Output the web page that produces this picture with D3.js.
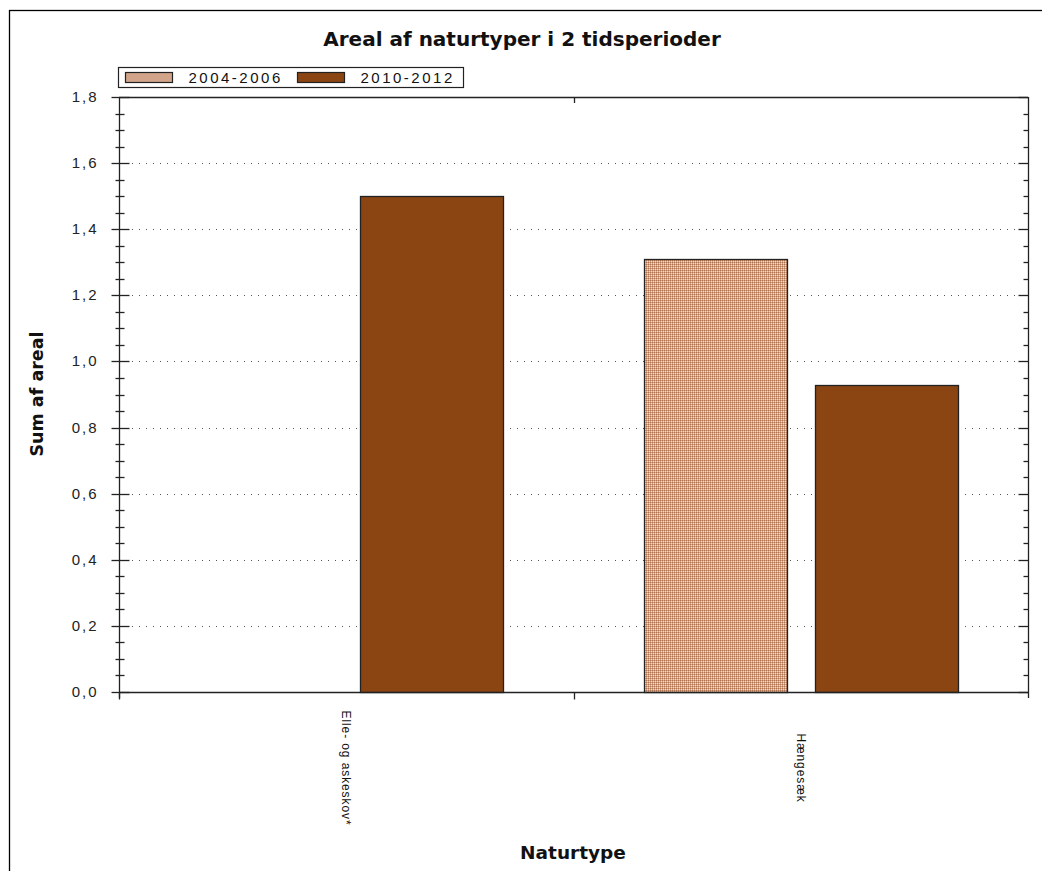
<!DOCTYPE html>
<html>
<head>
<meta charset="utf-8">
<script src="https://cdn.jsdelivr.net/npm/d3@7"></script>
<style>
  body { margin: 0; background: #fff; }
  text { font-family: "Liberation Sans", Arial, sans-serif; }
  .title { font-family: "DejaVu Sans", Verdana, sans-serif; font-weight: bold; }
</style>
</head>
<body>
<div id="chart"></div>
<script>
// chart data
const categories = ['Elle- og askeskov*', 'Hængesæk'];
const periods = ['2004-2006', '2010-2012'];
const values2004 = [0, 1.31];
const values2010 = [1.5, 0.93];
const yTicks = [0, 0.2, 0.4, 0.6, 0.8, 1.0, 1.2, 1.4, 1.6, 1.8];

const width = 1042;
const height = 871;
const margin = {top: 97, right: 14, bottom: 179, left: 119};
const usableArea = {
    top: margin.top,
    right: width - margin.right,
    bottom: height - margin.bottom,
    left: margin.left,
};

const rows = categories.map((c, i) => ({cat: c, vals: [values2004[i], values2010[i]]}));

const svg = d3.select('#chart')
    .append('svg')
    .attr('width', width)
    .attr('height', height);

// dotted fill for first period
const defs = svg.append('defs');
const pat = defs.append('pattern')
    .attr('id', 'dots')
    .attr('width', 2).attr('height', 2)
    .attr('patternUnits', 'userSpaceOnUse')
    .attr('shape-rendering', 'crispEdges');
pat.append('rect').attr('width', 2).attr('height', 2).attr('fill', '#d2a184');
pat.append('rect').attr('width', 1).attr('height', 1).attr('fill', '#b27450');
pat.append('rect').attr('x', 1).attr('y', 1).attr('width', 1).attr('height', 1).attr('fill', '#f0ddd0');

const fills = ['url(#dots)', '#8b4513'];

// outer frame
svg.append('rect')
    .attr('x', 9.5).attr('y', 10.5)
    .attr('width', 1040).attr('height', 870)
    .attr('fill', 'none').attr('stroke', '#000').attr('stroke-width', 1.3);

const xScale = d3.scaleBand().domain(categories).range([usableArea.left, usableArea.right]);
// bars sit 70px in from each category edge, 28px apart
const xInner = d3.scaleBand().domain(periods)
    .range([70, xScale.bandwidth() - 70])
    .paddingInner(28 / 170);
const yScale = d3.scaleLinear().domain([0, 1.8]).range([usableArea.bottom, usableArea.top]);

// gridlines
svg.append('g')
    .selectAll('line')
    .data(yTicks.filter(d => d > 0 && d < 1.8))
    .join('line')
    .attr('x1', usableArea.left + 6).attr('x2', usableArea.right)
    .attr('y1', d => Math.round(yScale(d)) + 0.5).attr('y2', d => Math.round(yScale(d)) + 0.5)
    .attr('stroke', '#555').attr('stroke-width', 1)
    .attr('stroke-dasharray', '1,6');

// bars
const groups = svg.append('g').attr('class', 'bars')
    .selectAll('g')
    .data(rows)
    .join('g')
    .attr('transform', d => `translate(${Math.round(xScale(d.cat))},0)`);

groups.selectAll('rect')
    .data(d => d.vals.map((v, i) => ({period: periods[i], value: v, i})).filter(d => d.value > 0))
    .join('rect')
    .attr('x', d => Math.round(xInner(d.period)) + 0.5)
    .attr('y', d => Math.round(yScale(d.value)) + 0.5)
    .attr('width', Math.round(xInner.bandwidth()))
    .attr('height', d => Math.round(yScale(0) - yScale(d.value)))
    .attr('fill', d => fills[d.i])
    .attr('stroke', '#222').attr('stroke-width', 1.3);

// top line of plot area
svg.append('line')
    .attr('x1', usableArea.left).attr('x2', usableArea.right)
    .attr('y1', usableArea.top + 0.5).attr('y2', usableArea.top + 0.5)
    .attr('stroke', '#222').attr('stroke-width', 1.3);

// y axes, left and right, with minor ticks
const minor = d3.range(0, 1.8001, 0.05).filter(v => Math.abs(v * 5 - Math.round(v * 5)) > 0.01);

function yAxisSide(x, dir) {
    const g = svg.append('g').attr('transform', `translate(${x + 0.5},0)`);
    g.append('line').attr('y1', usableArea.top).attr('y2', usableArea.bottom + 6)
        .attr('stroke', '#222').attr('stroke-width', 1.3);
    g.selectAll('.major').data(yTicks).join('line')
        .attr('class', 'major')
        .attr('x1', dir < 0 ? -8 : -10).attr('x2', dir < 0 ? 10 : 0)
        .attr('y1', d => Math.round(yScale(d)) + 0.5).attr('y2', d => Math.round(yScale(d)) + 0.5)
        .attr('stroke', '#222').attr('stroke-width', 1.3);
    g.selectAll('.minor').data(minor).join('line')
        .attr('class', 'minor')
        .attr('x1', dir < 0 ? -4 : -5).attr('x2', dir < 0 ? 5 : 0)
        .attr('y1', d => Math.round(yScale(d)) + 0.5).attr('y2', d => Math.round(yScale(d)) + 0.5)
        .attr('stroke', '#222').attr('stroke-width', 1.3);
    return g;
}
const yLeft = yAxisSide(usableArea.left, -1);
yAxisSide(usableArea.right, 1);

const fmt = d => d3.format('.1f')(d).replace('.', ',');
yLeft.selectAll('.lbl').data(yTicks).join('text')
    .attr('class', 'lbl')
    .attr('x', -21).attr('y', d => yScale(d) + 5)
    .attr('text-anchor', 'end')
    .attr('font-size', 15).attr('letter-spacing', 2)
    .attr('fill', '#222')
    .text(fmt);

// x axis
const xg = svg.append('g')
    .attr('transform', `translate(0,${usableArea.bottom + 0.5})`);
xg.append('line').attr('x1', usableArea.left).attr('x2', usableArea.right)
    .attr('stroke', '#222').attr('stroke-width', 1.3);
const edges = [usableArea.left, ...categories.slice(1).map(c => xScale(c))];
xg.selectAll('.tk').data(edges).join('line')
    .attr('class', 'tk')
    .attr('x1', d => Math.round(d) + 0.5).attr('x2', d => Math.round(d) + 0.5)
    .attr('y1', 0).attr('y2', 7)
    .attr('stroke', '#222').attr('stroke-width', 1.3);
// top ticks at category edges
svg.append('g').selectAll('line').data(categories.slice(1)).join('line')
    .attr('x1', d => Math.round(xScale(d)) + 0.5).attr('x2', d => Math.round(xScale(d)) + 0.5)
    .attr('y1', usableArea.top).attr('y2', usableArea.top + 6)
    .attr('stroke', '#222').attr('stroke-width', 1.3);

// category labels, rotated
svg.append('g').selectAll('text').data(categories).join('text')
    .attr('transform', d => `translate(${xScale(d) + xScale.bandwidth() / 2 - 4},768) rotate(90)`)
    .attr('text-anchor', 'middle')
    .attr('font-size', 12).attr('letter-spacing', 0.9)
    .attr('fill', '#111')
    .text(d => d);

// titles
svg.append('text')
    .attr('class', 'title')
    .attr('x', 522).attr('y', 46)
    .attr('text-anchor', 'middle')
    .attr('font-size', 20)
    .attr('fill', '#111')
    .text('Areal af naturtyper i 2 tidsperioder');

svg.append('text')
    .attr('class', 'title')
    .attr('transform', `translate(43,394) rotate(-90)`)
    .attr('text-anchor', 'middle')
    .attr('font-size', 17.5)
    .attr('fill', '#111')
    .text('Sum af areal');

svg.append('text')
    .attr('class', 'title')
    .attr('x', 573).attr('y', 859)
    .attr('text-anchor', 'middle')
    .attr('font-size', 18.5)
    .attr('fill', '#111')
    .text('Naturtype');

// legend
const legend = svg.append('g').attr('transform', 'translate(118.5,67.5)');
legend.append('rect').attr('width', 345).attr('height', 20)
    .attr('fill', '#fff').attr('stroke', '#222').attr('stroke-width', 1.2);
const items = legend.selectAll('g').data(periods).join('g')
    .attr('transform', (d, i) => `translate(${7 + i * 172},0)`);
items.append('rect')
    .attr('y', 5).attr('width', 47).attr('height', 10)
    .attr('fill', (d, i) => fills[i])
    .attr('stroke', '#222').attr('stroke-width', 1.2);
items.append('text')
    .attr('x', 63).attr('y', 15.5)
    .attr('font-size', 15).attr('letter-spacing', 2.5)
    .attr('fill', '#111')
    .text(d => d);
</script>
</body>
</html>
